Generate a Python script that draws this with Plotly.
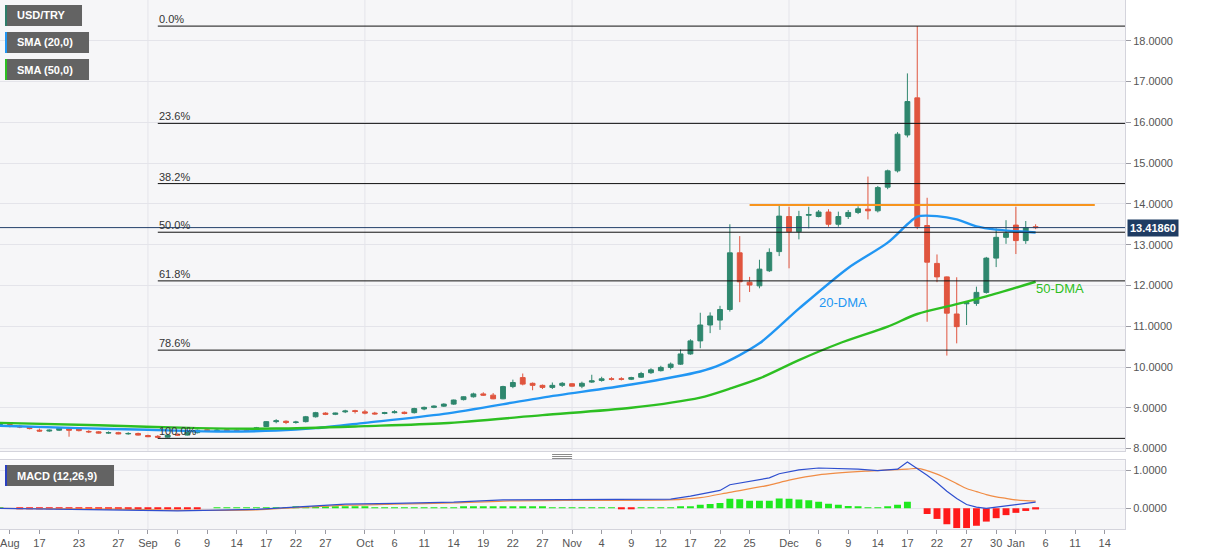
import plotly.graph_objects as go
import pandas as pd

# ---------------- data ----------------
dates = [
    "2021-08-11","2021-08-12","2021-08-13","2021-08-16","2021-08-17","2021-08-18","2021-08-19","2021-08-20",
    "2021-08-23","2021-08-24","2021-08-25","2021-08-26","2021-08-27","2021-08-30","2021-08-31",
    "2021-09-01","2021-09-02","2021-09-03","2021-09-06","2021-09-07","2021-09-08","2021-09-09","2021-09-10",
    "2021-09-13","2021-09-14","2021-09-15","2021-09-16","2021-09-17","2021-09-20","2021-09-21","2021-09-22",
    "2021-09-23","2021-09-24","2021-09-27","2021-09-28","2021-09-29","2021-09-30",
    "2021-10-01","2021-10-04","2021-10-05","2021-10-06","2021-10-07","2021-10-08","2021-10-11","2021-10-12",
    "2021-10-13","2021-10-14","2021-10-15","2021-10-18","2021-10-19","2021-10-20","2021-10-21","2021-10-22",
    "2021-10-25","2021-10-26","2021-10-27","2021-10-28","2021-10-29",
    "2021-11-01","2021-11-02","2021-11-03","2021-11-04","2021-11-05","2021-11-08","2021-11-09","2021-11-10",
    "2021-11-11","2021-11-12","2021-11-15","2021-11-16","2021-11-17","2021-11-18","2021-11-19","2021-11-22",
    "2021-11-23","2021-11-24","2021-11-25","2021-11-26","2021-11-29","2021-11-30",
    "2021-12-01","2021-12-02","2021-12-03","2021-12-06","2021-12-07","2021-12-08","2021-12-09","2021-12-10",
    "2021-12-13","2021-12-14","2021-12-15","2021-12-16","2021-12-17","2021-12-20","2021-12-21","2021-12-22",
    "2021-12-23","2021-12-24","2021-12-27","2021-12-28","2021-12-29","2021-12-30","2021-12-31",
    "2022-01-03","2022-01-04","2022-01-05",
]

opens = [
    8.56, 8.59, 8.55, 8.53, 8.45, 8.43, 8.45, 8.48, 8.49, 8.42, 8.41, 8.38, 8.39, 8.36, 8.37,
    8.32, 8.30, 8.28, 8.35, 8.33, 8.39, 8.46, 8.44, 8.46, 8.45, 8.45, 8.45, 8.54, 8.66, 8.67, 8.64,
    8.66, 8.78, 8.87, 8.84, 8.90, 8.93,
    8.90, 8.87, 8.86, 8.88, 8.89, 8.88, 8.97, 9.01, 9.04, 9.09, 9.20, 9.27, 9.34, 9.31, 9.22, 9.52,
    9.74, 9.60, 9.55, 9.50, 9.55,
    9.59, 9.53, 9.63, 9.67, 9.71, 9.71, 9.70, 9.75, 9.86, 9.91, 9.99, 10.07, 10.32, 10.64, 11.03, 11.15,
    11.41, 12.80, 12.08, 11.99, 12.36, 12.83,
    13.69, 13.32, 13.72, 13.69, 13.80, 13.50, 13.69, 13.79, 13.87, 13.83, 14.41, 14.81, 15.69, 16.60,
    13.47, 12.54, 12.21, 11.30, 11.55, 11.56, 11.83, 12.67, 13.18,
    13.48, 13.10, 13.44,
]
highs = [
    8.62, 8.61, 8.58, 8.55, 8.49, 8.47, 8.52, 8.53, 8.51, 8.45, 8.43, 8.42, 8.41, 8.40, 8.39,
    8.34, 8.33, 8.36, 8.37, 8.43, 8.47, 8.49, 8.48, 8.48, 8.47, 8.47, 8.53, 8.67, 8.72, 8.69, 8.68,
    8.80, 8.90, 8.89, 8.88, 8.95, 8.95,
    8.95, 8.90, 8.90, 8.94, 8.91, 9.00, 9.03, 9.06, 9.11, 9.20, 9.28, 9.37, 9.38, 9.36, 9.54, 9.69,
    9.84, 9.62, 9.57, 9.62, 9.63,
    9.60, 9.64, 9.81, 9.76, 9.75, 9.75, 9.76, 9.88, 9.97, 10.03, 10.11, 10.43, 10.68, 11.33, 11.34, 11.50,
    13.50, 13.21, 12.21, 12.63, 12.91, 13.95,
    13.93, 13.83, 13.93, 13.85, 13.87, 13.81, 13.85, 13.94, 14.67, 14.44, 14.84, 15.76, 17.20, 18.36,
    14.15, 12.76, 12.22, 12.20, 11.60, 11.97, 12.70, 13.40, 13.60,
    13.93, 13.58, 13.50,
]
lows = [
    8.53, 8.52, 8.50, 8.47, 8.41, 8.41, 8.43, 8.29, 8.42, 8.38, 8.37, 8.36, 8.35, 8.34, 8.32,
    8.28, 8.25, 8.27, 8.31, 8.32, 8.37, 8.42, 8.41, 8.42, 8.42, 8.42, 8.44, 8.53, 8.62, 8.60, 8.61,
    8.64, 8.76, 8.82, 8.82, 8.87, 8.86,
    8.84, 8.83, 8.84, 8.86, 8.84, 8.86, 8.94, 8.99, 9.02, 9.07, 9.18, 9.25, 9.29, 9.21, 9.21, 9.48,
    9.55, 9.43, 9.46, 9.46, 9.51,
    9.52, 9.48, 9.61, 9.64, 9.67, 9.67, 9.68, 9.73, 9.83, 9.89, 9.94, 10.05, 10.30, 10.46, 10.83, 10.91,
    11.36, 11.59, 11.84, 11.93, 12.33, 12.72,
    12.42, 13.13, 13.40, 13.67, 13.44, 13.44, 13.63, 13.75, 13.62, 13.79, 14.36, 14.77, 15.63, 13.38,
    11.11, 12.08, 10.28, 10.58, 11.03, 11.50, 11.80, 12.45, 13.02,
    12.77, 13.02, 13.38,
]
closes = [
    8.59, 8.55, 8.53, 8.49, 8.43, 8.45, 8.50, 8.45, 8.44, 8.41, 8.38, 8.39, 8.36, 8.37, 8.33,
    8.29, 8.28, 8.33, 8.33, 8.41, 8.45, 8.44, 8.45, 8.44, 8.44, 8.44, 8.51, 8.66, 8.68, 8.64, 8.65,
    8.78, 8.88, 8.84, 8.87, 8.92, 8.91,
    8.87, 8.85, 8.88, 8.90, 8.86, 8.98, 9.01, 9.04, 9.09, 9.19, 9.27, 9.34, 9.31, 9.22, 9.52, 9.62,
    9.58, 9.55, 9.50, 9.55, 9.60,
    9.53, 9.60, 9.66, 9.71, 9.70, 9.70, 9.74, 9.84, 9.93, 9.99, 10.07, 10.32, 10.64, 11.03, 11.25, 11.41,
    12.80, 12.09, 12.01, 12.40, 12.81, 13.70,
    13.32, 13.69, 13.74, 13.80, 13.50, 13.69, 13.79, 13.88, 13.83, 14.40, 14.81, 15.71, 16.51, 13.45,
    12.57, 12.21, 11.32, 10.99, 11.58, 11.83, 12.67, 13.18, 13.28,
    13.10, 13.42, 13.4186,
]

sma20_dates = ["2021-08-11","2021-08-23","2021-09-01","2021-09-10","2021-09-20","2021-09-24","2021-10-01",
               "2021-10-13","2021-10-27","2021-11-09","2021-11-18","2021-11-22","2021-11-26","2021-12-02",
               "2021-12-09","2021-12-15","2021-12-17","2021-12-20","2021-12-22","2021-12-24","2021-12-28",
               "2021-12-30","2022-01-05"]
sma20_vals = [8.56, 8.50, 8.46, 8.42, 8.44, 8.50, 8.63, 8.85, 9.25, 9.57, 9.89, 10.05, 10.58, 11.43,
              12.43, 13.05, 13.50, 13.69, 13.70, 13.62, 13.45, 13.37, 13.30]

sma50_dates = ["2021-08-11","2021-08-25","2021-09-08","2021-09-20","2021-10-01","2021-10-13","2021-10-27",
               "2021-11-09","2021-11-18","2021-11-23","2021-11-26","2021-12-02","2021-12-08","2021-12-15",
               "2021-12-20","2021-12-24","2021-12-29","2022-01-05"]
sma50_vals = [8.63, 8.57, 8.50, 8.49, 8.55, 8.62, 8.82, 9.00, 9.25, 9.47, 9.72, 10.17, 10.57, 10.99,
              11.30, 11.54, 11.73, 12.09]

hist_vals = [
    0.005, 0.0, -0.005, -0.01, -0.01, -0.015, -0.015, -0.02, -0.02, -0.02, -0.02, -0.02, -0.025, -0.025, -0.025,
    -0.025, -0.025, -0.02, -0.02, -0.015, -0.01, 0.0, 0.005, 0.01, 0.01, 0.01, 0.015, 0.02, 0.025, 0.025, 0.03,
    0.035, 0.04, 0.04, 0.04, 0.04, 0.035,
    0.03, 0.025, 0.02, 0.02, 0.015, 0.015, 0.015, 0.015, 0.02, 0.025, 0.03, 0.03, 0.035, 0.03, 0.035, 0.04,
    0.04, 0.035, 0.03, 0.025, 0.02,
    0.01, 0.005, 0.005, 0.003, 0.002, -0.002, -0.002, 0.002, 0.005, 0.01, 0.02, 0.03, 0.05, 0.09, 0.11, 0.14,
    0.25, 0.24, 0.20, 0.20, 0.20, 0.26,
    0.25, 0.23, 0.21, 0.17, 0.12, 0.09, 0.06, 0.03, 0.01, 0.015, 0.04, 0.09, 0.17, 0.0,
    -0.15, -0.28, -0.42, -0.52, -0.52, -0.46, -0.35, -0.26, -0.18,
    -0.12, -0.07, -0.03,
]

macd_dates = ["2021-08-11","2021-08-27","2021-09-06","2021-09-16","2021-09-22","2021-09-29","2021-10-06",
              "2021-10-14","2021-10-21","2021-11-01","2021-11-04","2021-11-15","2021-11-17","2021-11-22",
              "2021-11-23","2021-11-25","2021-11-29","2021-11-30","2021-12-02","2021-12-06","2021-12-10",
              "2021-12-14","2021-12-16","2021-12-17","2021-12-20","2021-12-21","2021-12-22","2021-12-23",
              "2021-12-24","2021-12-27","2021-12-28","2021-12-29","2021-12-30","2021-12-31","2022-01-03",
              "2022-01-04","2022-01-05"]
macd_vals = [0.0, -0.04, -0.07, -0.03, 0.04, 0.11, 0.13, 0.16, 0.22, 0.23, 0.22, 0.24, 0.32, 0.47,
             0.62, 0.71, 0.80, 0.91, 1.01, 1.06, 1.03, 0.99, 1.03, 1.22, 1.05, 0.87, 0.67, 0.45,
             0.26, 0.10, 0.03, 0.00, 0.03, 0.07, 0.10, 0.13, 0.16]

signal_dates = ["2021-08-11","2021-08-27","2021-09-06","2021-09-16","2021-09-22","2021-09-29","2021-10-06",
                "2021-10-14","2021-10-21","2021-11-01","2021-11-15","2021-11-18","2021-11-23","2021-11-29",
                "2021-12-01","2021-12-06","2021-12-13","2021-12-17","2021-12-20","2021-12-22","2021-12-24",
                "2021-12-27","2021-12-28","2021-12-29","2021-12-30","2021-12-31","2022-01-03","2022-01-04",
                "2022-01-05"]
signal_vals = [0.0, -0.02, -0.05, -0.04, 0.02, 0.08, 0.11, 0.14, 0.19, 0.21, 0.22, 0.28, 0.42, 0.61,
               0.74, 0.88, 0.98, 1.03, 1.05, 0.90, 0.65, 0.52, 0.44, 0.36, 0.30, 0.26, 0.22, 0.20, 0.19]

tick_dates = ["2021-08-12","2021-08-17","2021-08-23","2021-08-27","2021-09-01","2021-09-06","2021-09-09",
              "2021-09-14","2021-09-17","2021-09-22","2021-09-27","2021-10-01","2021-10-06","2021-10-11",
              "2021-10-14","2021-10-19","2021-10-22","2021-10-27","2021-11-01","2021-11-04","2021-11-09",
              "2021-11-12","2021-11-17","2021-11-22","2021-11-25","2021-12-01","2021-12-06","2021-12-09",
              "2021-12-14","2021-12-17","2021-12-22","2021-12-27","2021-12-30","2022-01-03","2022-01-06",
              "2022-01-11","2022-01-14"]
tick_labels = ["Aug","17","23","27","Sep","6","9","14","17","22","27","Oct","6","11","14","19","22","27",
               "Nov","4","9","12","17","22","25","Dec","6","9","14","17","22","27","30","Jan","6","11","14"]
month_grid_dates = ["2021-09-01","2021-10-01","2021-11-01","2021-12-01","2022-01-03"]

price_ticks = [8, 9, 10, 11, 12, 13, 14, 15, 16, 17, 18]
macd_ticks = [0, 1]

fib_high = 18.36
fib_low = 8.25
fib_start = "2021-09-02"
fib_ratios = [0.0, 0.236, 0.382, 0.5, 0.618, 0.786, 1.0]
fib_labels = ["0.0%", "23.6%", "38.2%", "50.0%", "61.8%", "78.6%", "100.0%"]

resistance_level = 13.97
resistance_start = "2021-11-25"
resistance_end = "2022-01-13"
last_price = 13.4186

# ---------------- styling ----------------
GREEN = "#2f876e"
RED = "#e0553f"
SMA20_C = "#2196f3"
SMA50_C = "#2dbf22"
MACD_C = "#2f4fcf"
SIG_C = "#f08c45"
GRID = "#e4e4ea"
BORDER = "#d4d4dc"
FONT = "Liberation Sans, Arial, sans-serif"

PLOT_W = 1124.8
PLOT_H = 529.0


def px(xp):
    return xp / PLOT_W


def py(yp):
    return (PLOT_H - yp) / PLOT_H


def to_x(ds):
    return pd.to_datetime(pd.Series(ds)) + pd.Timedelta(hours=12)


x_start = pd.Timestamp("2021-08-11 12:00")
x_end = pd.Timestamp("2022-01-18 13:30")
rb = [dict(bounds=["sat", "mon"])]

fig = go.Figure()

fig.add_trace(go.Candlestick(
    x=to_x(dates), open=opens, high=highs, low=lows, close=closes,
    increasing=dict(line=dict(color=GREEN, width=1), fillcolor=GREEN),
    decreasing=dict(line=dict(color=RED, width=1), fillcolor=RED),
    xaxis="x", yaxis="y", hoverinfo="skip", name="USD/TRY"))

fig.add_trace(go.Scatter(x=to_x(sma20_dates), y=sma20_vals, mode="lines",
                         line=dict(color=SMA20_C, width=2.4, shape="spline", smoothing=0.8),
                         xaxis="x", yaxis="y", hoverinfo="skip"))
fig.add_trace(go.Scatter(x=to_x(sma50_dates), y=sma50_vals, mode="lines",
                         line=dict(color=SMA50_C, width=2.4, shape="spline", smoothing=0.8),
                         xaxis="x", yaxis="y", hoverinfo="skip"))

fig.add_trace(go.Bar(x=to_x(dates), y=hist_vals,
                     marker=dict(color=["#1fe81f" if v >= 0 else "#ff1a1a" for v in hist_vals],
                                 line=dict(width=0)),
                     xaxis="x2", yaxis="y2", hoverinfo="skip"))
fig.add_trace(go.Scatter(x=to_x(signal_dates), y=signal_vals, mode="lines",
                         line=dict(color=SIG_C, width=1.2, shape="spline", smoothing=0.8),
                         xaxis="x2", yaxis="y2", hoverinfo="skip"))
fig.add_trace(go.Scatter(x=to_x(macd_dates), y=macd_vals, mode="lines",
                         line=dict(color=MACD_C, width=1.2),
                         xaxis="x2", yaxis="y2", hoverinfo="skip"))

main_dom = [py(451), 1.0]
macd_dom = [0.0, py(460.3)]

axis_common = dict(showline=True, mirror=True, linecolor=BORDER, linewidth=1, zeroline=False)

fig.update_layout(
    width=1207, height=555,
    margin=dict(l=0, r=1207 - PLOT_W, t=0, b=26),
    paper_bgcolor="white", plot_bgcolor="#f6f6f8",
    showlegend=False, bargap=0.3,
    font=dict(family=FONT, size=11, color="#555555"),
    xaxis=dict(domain=[0, 1], anchor="y", range=[x_start, x_end], rangebreaks=rb,
               showticklabels=False, showgrid=False, ticks="",
               rangeslider=dict(visible=False), **axis_common),
    xaxis2=dict(domain=[0, 1], anchor="y2", matches="x", range=[x_start, x_end], rangebreaks=rb,
                tickmode="array", tickvals=to_x(tick_dates), ticktext=tick_labels,
                ticks="outside", ticklen=4, tickcolor="#9a9aa2", showgrid=False,
                tickfont=dict(size=11, color="#555555"), **axis_common),
    yaxis=dict(domain=main_dom, anchor="x", side="right", range=[7.94, 19.0],
               tickmode="array", tickvals=price_ticks, tickformat=".4f",
               gridcolor=GRID, ticks="outside", ticklen=5, tickcolor="#9a9aa2",
               tickfont=dict(size=11, color="#555555"), **axis_common),
    yaxis2=dict(domain=macd_dom, anchor="x2", side="right", range=[-0.545, 1.263],
                tickmode="array", tickvals=macd_ticks, tickformat=".4f",
                gridcolor=GRID, ticks="outside", ticklen=5, tickcolor="#9a9aa2",
                tickfont=dict(size=11, color="#555555"), **axis_common),
)

shapes = []
# monthly vertical grid lines in both panels
for d in to_x(month_grid_dates):
    shapes.append(dict(type="line", xref="x", yref="y domain", x0=d, x1=d, y0=0, y1=1,
                       line=dict(color=GRID, width=1), layer="below"))
    shapes.append(dict(type="line", xref="x2", yref="y2 domain", x0=d, x1=d, y0=0, y1=1,
                       line=dict(color=GRID, width=1), layer="below"))

# Fibonacci retracement lines
fib_x0 = to_x([fib_start])[0]
fib_levels = [fib_high - r * (fib_high - fib_low) for r in fib_ratios]
for lvl in fib_levels:
    shapes.append(dict(type="line", xref="x", yref="y", x0=fib_x0, x1=x_end, y0=lvl, y1=lvl,
                       line=dict(color="#111111", width=1)))

# resistance line
shapes.append(dict(type="line", xref="x", yref="y",
                   x0=to_x([resistance_start])[0], x1=to_x([resistance_end])[0],
                   y0=resistance_level, y1=resistance_level,
                   line=dict(color="#f7941d", width=2)))

# last price line
shapes.append(dict(type="line", xref="paper", yref="y", x0=0, x1=1, y0=last_price, y1=last_price,
                   line=dict(color="#24416b", width=1)))

# legend boxes
legend_items = [("USD/TRY", 5, 82, 5, 26, "#2e7d6a"),
                ("SMA (20,0)", 5, 89, 32, 53, SMA20_C),
                ("SMA (50,0)", 5, 89, 59, 80, SMA50_C),
                ("MACD (12,26,9)", 5, 114, 465, 486, "#2a3fc0")]
annotations = []
for label, x0, x1, y0, y1, col in legend_items:
    shapes.append(dict(type="rect", xref="paper", yref="paper", x0=px(x0), x1=px(x1),
                       y0=py(y1), y1=py(y0), fillcolor="#636363", line=dict(width=0)))
    shapes.append(dict(type="rect", xref="paper", yref="paper", x0=px(x0), x1=px(x0 + 2),
                       y0=py(y1), y1=py(y0), fillcolor=col, line=dict(width=0)))
    annotations.append(dict(xref="paper", yref="paper", x=px(15), y=py((y0 + y1) / 2),
                            xanchor="left", yanchor="middle", showarrow=False,
                            text="<b>%s</b>" % label,
                            font=dict(family=FONT, size=11, color="white")))

# pane resize handle
for yy in (454.5, 456.5, 458.5):
    shapes.append(dict(type="line", xref="paper", yref="paper", x0=px(552), x1=px(572),
                       y0=py(yy), y1=py(yy), line=dict(color="#8a8a8a", width=1)))

# fib labels
for lvl, lab in zip(fib_levels, fib_labels):
    annotations.append(dict(xref="x", yref="y", x=fib_x0, y=lvl, xanchor="left", yanchor="bottom",
                            showarrow=False, text=lab, borderpad=0,
                            font=dict(family=FONT, size=11, color="#333333")))

# DMA labels
annotations.append(dict(xref="paper", yref="paper", x=px(817), y=py(303), xanchor="left",
                        yanchor="middle", showarrow=False, text="20-DMA",
                        font=dict(family=FONT, size=13, color=SMA20_C)))
annotations.append(dict(xref="paper", yref="paper", x=px(1034), y=py(288), xanchor="left",
                        yanchor="middle", showarrow=False, text="50-DMA",
                        font=dict(family=FONT, size=13, color=SMA50_C)))

# last price label
annotations.append(dict(xref="paper", yref="y", x=1, y=last_price, xanchor="left", yanchor="middle",
                        xshift=2, showarrow=False, text="<b>%.5f</b>" % last_price,
                        bgcolor="#1f3c63", borderpad=2,
                        font=dict(family=FONT, size=11, color="white")))

fig.update_layout(shapes=shapes, annotations=annotations)

fig.write_html("out.html",
               config={"displayModeBar": False},
               post_script="document.body.style.margin='0px';document.body.style.overflow='hidden';")
